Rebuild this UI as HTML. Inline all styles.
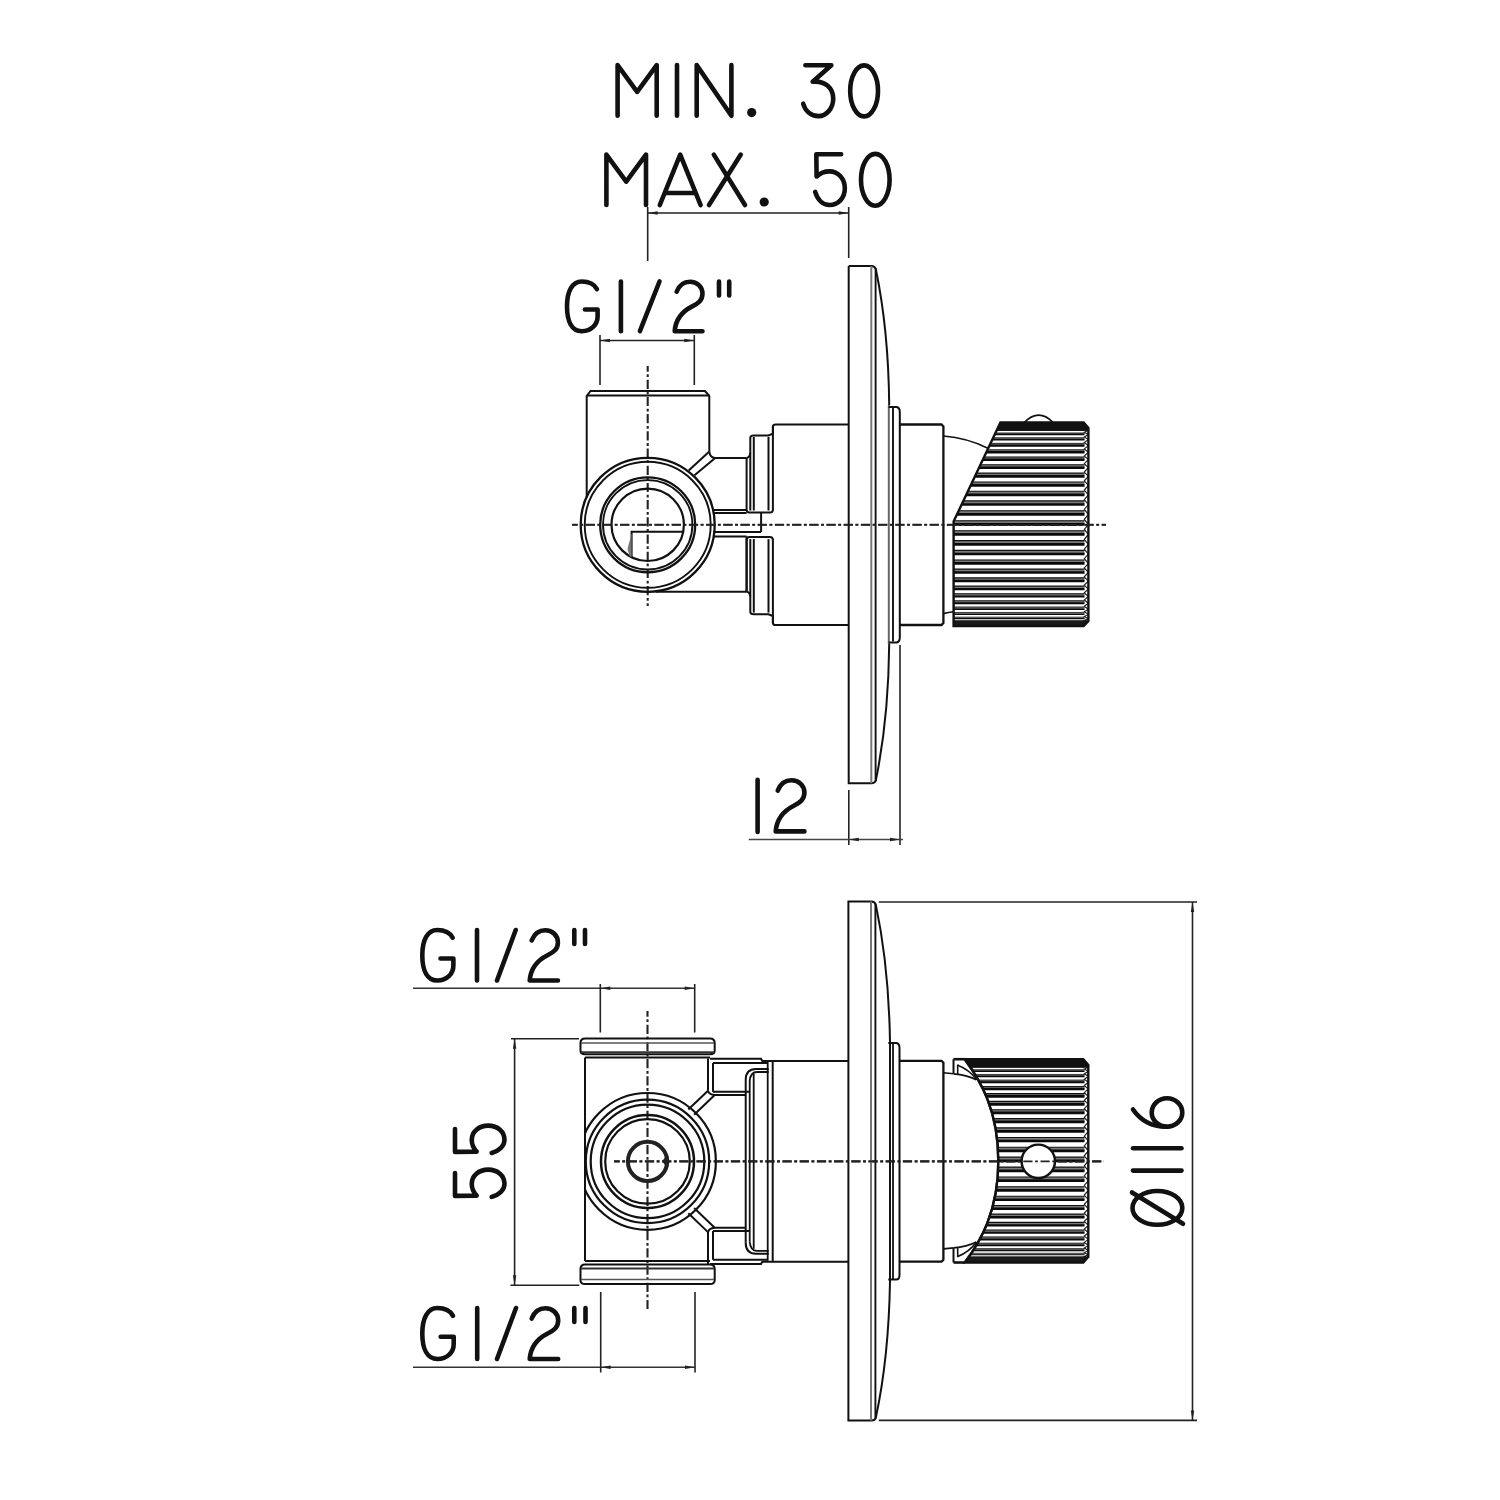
<!DOCTYPE html>
<html><head><meta charset="utf-8"><style>
html,body{margin:0;padding:0;background:#fff;width:1500px;height:1500px;overflow:hidden;font-family:"Liberation Sans",sans-serif;}
svg{display:block}
</style></head><body>
<svg width="1500" height="1500" viewBox="0 0 1500 1500">
<rect width="1500" height="1500" fill="#fff"/>
<g fill="none" stroke="#111" stroke-width="4.6" stroke-linecap="round" stroke-linejoin="round">
<path d="M617.6,115.8 L617.6,65.1 L637.15,91.8189 L656.7,65.1 L656.7,115.8"/>
<path d="M677,65.1 L677,115.8"/>
<path d="M696.7,115.8 L696.7,65.1 L731.4,115.8 L731.4,65.1"/>
<circle cx="751.7" cy="112.6" r="4.6" fill="#111" stroke="none"/>
<path d="M805.40,65.30 L831.34,65.30 L812.68,81.77 C825.16,80.47 833.24,88.25 833.24,98.53 C833.24,108.71 826.15,116.10 818.57,116.10 C811.18,116.10 805.20,111.21 803.20,103.72"/>
<ellipse cx="864.10" cy="90.90" rx="13.90" ry="25.50"/>
<path d="M606.4,205.0 L606.4,154.6 L626.1999999999999,181.6144 L646.0,154.6 L646.0,205.0"/>
<path d="M659.8,205.0 L680.2,154.6 L700.6,205.0 M664.9,193 L695.5,193"/>
<path d="M713.8,154.6 L745,205.0 M740.8,154.6 L709,205.0"/>
<circle cx="764.2" cy="202" r="4.6" fill="#111" stroke="none"/>
<path d="M841.15,154.20 L816.30,154.20 L816.60,176.46 C820.19,173.16 824.18,171.37 829.47,171.37 C838.15,171.37 844.84,178.65 844.84,188.23 C844.84,198.11 838.15,205.00 829.47,205.00 C823.18,205.00 817.70,200.11 815.20,191.83"/>
<ellipse cx="875.30" cy="179.80" rx="14.30" ry="25.90"/>
<path d="M596.92,289.10 C594.19,284.03 588.15,281.50 581.72,281.50 C572.07,281.50 567.00,291.54 567.00,306.35 C567.00,321.75 572.07,331.20 581.72,331.20 C591.17,331.20 597.60,324.77 597.60,316.48 L597.60,309.57 L584.93,309.57"/>
<path d="M620.9,281.5 L620.9,331.2"/>
<path d="M639.9,331.2 L659.5,281.5"/>
<path d="M676.65,291.73 C679.09,285.59 683.96,281.79 690.00,281.79 C697.11,281.79 702.47,286.86 702.47,293.68 C702.47,300.50 698.09,303.43 692.24,306.35 C682.50,311.22 675.67,318.53 674.70,331.20 L702.47,331.20"/>
<path d="M719,281.5 L719,295.5 M729.2,281.5 L729.2,295.5"/>
<path d="M452.70,937.72 C449.93,932.57 443.79,930.00 437.25,930.00 C427.45,930.00 422.30,940.20 422.30,955.25 C422.30,970.90 427.45,980.50 437.25,980.50 C446.86,980.50 453.39,973.96 453.39,965.55 L453.39,958.52 L440.52,958.52"/>
<path d="M477,930 L477,980.5"/>
<path d="M497,980.5 L515.7,930"/>
<path d="M531.68,940.40 C534.16,934.16 539.11,930.30 545.25,930.30 C552.47,930.30 557.92,935.45 557.92,942.38 C557.92,949.31 553.46,952.28 547.52,955.25 C537.62,960.20 530.69,967.63 529.70,980.50 L557.92,980.50"/>
<path d="M574.3,930 L574.3,944 M585,930 L585,944"/>
<path d="M453.00,1315.80 C450.20,1310.60 444.00,1308.00 437.40,1308.00 C427.50,1308.00 422.30,1318.30 422.30,1333.50 C422.30,1349.30 427.50,1359.00 437.40,1359.00 C447.10,1359.00 453.70,1352.40 453.70,1343.90 L453.70,1336.80 L440.70,1336.80"/>
<path d="M477.2,1308 L477.2,1359"/>
<path d="M497,1359 L516,1308"/>
<path d="M531.70,1318.50 C534.20,1312.20 539.20,1308.30 545.40,1308.30 C552.70,1308.30 558.20,1313.50 558.20,1320.50 C558.20,1327.50 553.70,1330.50 547.70,1333.50 C537.70,1338.50 530.70,1346.00 529.70,1359.00 L558.20,1359.00"/>
<path d="M574.3,1308 L574.3,1322 M585.5,1308 L585.5,1322"/>
<path d="M757.6,779.9 L757.6,831.9"/>
<path d="M777.72,790.58 C780.24,784.23 785.27,780.30 791.52,780.30 C798.88,780.30 804.42,785.54 804.42,792.60 C804.42,799.65 799.89,802.68 793.84,805.70 C783.76,810.74 776.71,818.30 775.70,831.40 L804.42,831.40"/>
</g>
<g transform="translate(455,1196.9) rotate(-90) scale(0.92,0.9725)" fill="none" stroke="#111" stroke-width="4.6" stroke-linecap="round" stroke-linejoin="round">
<path vector-effect="non-scaling-stroke" d="M26.00,0.00 L1.10,0.00 L1.40,22.30 C5.00,19.00 9.00,17.20 14.30,17.20 C23.00,17.20 29.70,24.50 29.70,34.10 C29.70,44.00 23.00,50.90 14.30,50.90 C8.00,50.90 2.50,46.00 0.00,37.70"/>
<path vector-effect="non-scaling-stroke" d="M73.80,0.00 L48.90,0.00 L49.20,22.30 C52.80,19.00 56.80,17.20 62.10,17.20 C70.80,17.20 77.50,24.50 77.50,34.10 C77.50,44.00 70.80,50.90 62.10,50.90 C55.80,50.90 50.30,46.00 47.80,37.70"/>
</g>
<g fill="none" stroke="#111" stroke-width="4.6" stroke-linecap="round" stroke-linejoin="round">
<ellipse cx="1157.40" cy="1207.90" rx="24.90" ry="16.90"/>
<path d="M1132,1192.5 L1183,1223.8"/>
<path d="M1133,1170.6 L1181.5,1170.6"/>
<path d="M1133,1148.2 L1181.5,1148.2"/>
<ellipse cx="1167.00" cy="1112.50" rx="15.30" ry="14.20"/>
<path d="M1133,1109.5 C1141,1121 1152,1127 1167,1126.7"/>
</g>
<line x1="647.70" y1="213.00" x2="848.70" y2="213.00" stroke="#222" stroke-width="1.6" />
<polygon points="647.70,213.00 657.70,211.30 657.70,214.70" fill="#222"/>
<polygon points="848.70,213.00 838.70,214.70 838.70,211.30" fill="#222"/>
<line x1="647.70" y1="207.00" x2="647.70" y2="261.00" stroke="#222" stroke-width="1.6" />
<line x1="848.70" y1="207.00" x2="848.70" y2="258.00" stroke="#222" stroke-width="1.6" />
<line x1="600.00" y1="340.50" x2="694.30" y2="340.50" stroke="#222" stroke-width="1.6" />
<polygon points="600.00,340.50 610.00,338.80 610.00,342.20" fill="#222"/>
<polygon points="694.30,340.50 684.30,342.20 684.30,338.80" fill="#222"/>
<line x1="600.00" y1="335.00" x2="600.00" y2="385.00" stroke="#222" stroke-width="1.6" />
<line x1="694.30" y1="335.00" x2="694.30" y2="385.00" stroke="#222" stroke-width="1.6" />
<line x1="572.00" y1="524.80" x2="1106.00" y2="524.80" stroke="#222" stroke-width="2.1" stroke-dasharray="9.2 2.6 2.8 2.6" stroke-dashoffset="3.5"/>
<line x1="647.70" y1="366.00" x2="647.70" y2="606.00" stroke="#222" stroke-width="2.1" stroke-dasharray="9.2 2.6 2.8 2.6" stroke-dashoffset="3.5"/>
<path d="M586.7,396 L590.5,391 L705,391 L709.3,396" fill="none" stroke="#111" stroke-width="2.0" />
<line x1="586.70" y1="395.50" x2="709.30" y2="395.50" stroke="#111" stroke-width="2.0" />
<line x1="586.70" y1="395.50" x2="586.70" y2="497.00" stroke="#111" stroke-width="2.0" />
<line x1="709.30" y1="395.50" x2="709.30" y2="451.40" stroke="#111" stroke-width="2.0" />
<path d="M709.3,451.4 Q710,457.9 715.2,457.9 L746.6,457.9" fill="none" stroke="#111" stroke-width="2.0" />
<line x1="709.30" y1="451.40" x2="688.70" y2="470.50" stroke="#111" stroke-width="2.0" />
<line x1="715.20" y1="457.90" x2="694.50" y2="475.20" stroke="#111" stroke-width="2.0" />
<circle cx="647.7" cy="524.8" r="67" fill="none" stroke="#111" stroke-width="2.3"/>
<circle cx="647.7" cy="524.8" r="63" fill="none" stroke="#111" stroke-width="1.9"/>
<circle cx="647.7" cy="524.8" r="47.5" fill="none" stroke="#111" stroke-width="2.3"/>
<circle cx="647.7" cy="524.8" r="44.7" fill="none" stroke="#111" stroke-width="1.9"/>
<circle cx="647.7" cy="524.8" r="36.2" fill="none" stroke="#111" stroke-width="2.2"/>
<path d="M683.2,531.7 L631.6,531.7 L631.6,557.2" fill="none" stroke="#111" stroke-width="2.0" />
<polygon points="627.50,549.00 631.60,533.00 631.60,557.00 629.50,556.00" fill="#777"/>
<line x1="656.00" y1="591.80" x2="746.60" y2="591.80" stroke="#111" stroke-width="2.0" />
<line x1="713.00" y1="510.00" x2="746.60" y2="510.00" stroke="#111" stroke-width="2.0" />
<line x1="713.00" y1="513.00" x2="746.60" y2="513.00" stroke="#111" stroke-width="2.0" />
<line x1="713.00" y1="532.00" x2="761.10" y2="532.00" stroke="#111" stroke-width="2.0" />
<line x1="713.00" y1="536.40" x2="746.60" y2="536.40" stroke="#111" stroke-width="2.0" />
<line x1="761.10" y1="513.00" x2="761.10" y2="532.00" stroke="#111" stroke-width="2.0" />
<path d="M746.6,457.9 Q749.8,457.6 750.3,453.2 L750.3,437.5 Q750.5,435.4 753.8,435.4 L768.5,435.4 L772.9,433.6 L772.9,426.5 Q773.2,424.5 775.5,424.5 L848.7,424.5" fill="none" stroke="#111" stroke-width="2.0" />
<line x1="746.60" y1="457.90" x2="746.60" y2="510.50" stroke="#111" stroke-width="2.0" />
<line x1="750.30" y1="453.20" x2="750.30" y2="510.50" stroke="#111" stroke-width="2.0" />
<line x1="753.80" y1="437.00" x2="753.80" y2="510.50" stroke="#111" stroke-width="2.0" />
<line x1="768.50" y1="437.00" x2="768.50" y2="510.50" stroke="#111" stroke-width="2.0" />
<line x1="772.90" y1="426.00" x2="772.90" y2="510.50" stroke="#111" stroke-width="2.0" />
<path d="M746.6,510.0 Q746.8,512.6 749.5,512.6 L770,512.6 Q772.7,512.6 772.9,510.0" fill="none" stroke="#111" stroke-width="2.0" />
<path d="M746.6,591.6999999999999 Q749.8,591.9999999999999 750.3,596.3999999999999 L750.3,612.0999999999999 Q750.5,614.1999999999999 753.8,614.1999999999999 L768.5,614.1999999999999 L772.9,615.9999999999999 L772.9,623.0999999999999 Q773.2,625.0999999999999 775.5,625.0999999999999 L848.7,625.0999999999999" fill="none" stroke="#111" stroke-width="2.0" />
<line x1="746.60" y1="591.70" x2="746.60" y2="539.10" stroke="#111" stroke-width="2.0" />
<line x1="750.30" y1="596.40" x2="750.30" y2="539.10" stroke="#111" stroke-width="2.0" />
<line x1="753.80" y1="612.60" x2="753.80" y2="539.10" stroke="#111" stroke-width="2.0" />
<line x1="768.50" y1="612.60" x2="768.50" y2="539.10" stroke="#111" stroke-width="2.0" />
<line x1="772.90" y1="623.60" x2="772.90" y2="539.10" stroke="#111" stroke-width="2.0" />
<path d="M746.6,539.5999999999999 Q746.8,536.9999999999999 749.5,536.9999999999999 L770,536.9999999999999 Q772.7,536.9999999999999 772.9,539.5999999999999" fill="none" stroke="#111" stroke-width="2.0" />
<line x1="746.60" y1="536.40" x2="746.60" y2="591.80" stroke="#111" stroke-width="2.0" />
<path d="M848.7,266 L871.5,266 Q874.8,266.3 875.8,269 Q888.5,330 889.2,405 M889.2,644 Q888.5,719 875.8,780.5 Q874.8,783.2 871.5,783.2 L848.7,783.2 L848.7,266" fill="none" stroke="#111" stroke-width="2.0" />
<line x1="888.80" y1="405.00" x2="888.80" y2="644.00" stroke="#666" stroke-width="2.0" />
<line x1="871.30" y1="266.00" x2="871.30" y2="783.20" stroke="#777" stroke-width="2.0" />
<line x1="875.60" y1="268.00" x2="875.60" y2="781.00" stroke="#111" stroke-width="1.9" />
<path d="M888.6,407 L896.5,407 Q899.8,407.5 899.8,412 L899.8,637.6 Q899.8,642.1 896.5,642.6 L888.6,642.6" fill="none" stroke="#111" stroke-width="2.0" />
<line x1="893.00" y1="408.00" x2="893.00" y2="641.60" stroke="#111" stroke-width="1.9" />
<path d="M899.8,424.5 L941.5,424.5 L943.4,426.5 L943.4,623 L941.5,625 L899.8,625" fill="none" stroke="#111" stroke-width="2.3" />
<path d="M943.2,436 Q968,438 988.5,448.5" fill="none" stroke="#111" stroke-width="1.6" />
<path d="M943.2,613.6 Q948.5,612.3 953.6,611.8" fill="none" stroke="#111" stroke-width="1.6" />
<line x1="848.80" y1="790.00" x2="848.80" y2="845.00" stroke="#222" stroke-width="1.6" />
<line x1="900.00" y1="645.00" x2="900.00" y2="845.00" stroke="#222" stroke-width="1.6" />
<line x1="748.80" y1="839.50" x2="903.00" y2="839.50" stroke="#444" stroke-width="1.6" />
<polygon points="848.80,839.50 858.80,837.80 858.80,841.20" fill="#222"/>
<polygon points="900.00,839.50 890.00,841.20 890.00,837.80" fill="#222"/>
<line x1="413.00" y1="988.20" x2="695.00" y2="988.20" stroke="#333" stroke-width="1.6" />
<polygon points="600.30,988.20 610.30,986.50 610.30,989.90" fill="#222"/>
<polygon points="694.70,988.20 684.70,989.90 684.70,986.50" fill="#222"/>
<line x1="600.30" y1="984.00" x2="600.30" y2="1032.50" stroke="#222" stroke-width="1.6" />
<line x1="694.70" y1="984.00" x2="694.70" y2="1032.50" stroke="#222" stroke-width="1.6" />
<line x1="511.00" y1="1038.80" x2="579.00" y2="1038.80" stroke="#222" stroke-width="1.6" />
<line x1="514.60" y1="1038.80" x2="514.60" y2="1285.30" stroke="#222" stroke-width="1.6" />
<polygon points="514.60,1038.80 516.30,1048.80 512.90,1048.80" fill="#222"/>
<polygon points="514.60,1285.30 512.90,1275.30 516.30,1275.30" fill="#222"/>
<line x1="510.50" y1="1285.30" x2="579.40" y2="1285.30" stroke="#222" stroke-width="1.6" />
<line x1="413.00" y1="1367.20" x2="695.00" y2="1367.20" stroke="#333" stroke-width="1.6" />
<polygon points="600.70,1367.20 610.70,1365.50 610.70,1368.90" fill="#222"/>
<polygon points="695.00,1367.20 685.00,1368.90 685.00,1365.50" fill="#222"/>
<line x1="600.70" y1="1292.00" x2="600.70" y2="1372.50" stroke="#222" stroke-width="1.6" />
<line x1="695.00" y1="1292.00" x2="695.00" y2="1372.50" stroke="#222" stroke-width="1.6" />
<line x1="878.80" y1="902.00" x2="1197.00" y2="902.00" stroke="#222" stroke-width="1.6" />
<line x1="878.80" y1="1420.40" x2="1197.00" y2="1420.40" stroke="#222" stroke-width="1.6" />
<line x1="1192.50" y1="902.00" x2="1192.50" y2="1420.40" stroke="#222" stroke-width="1.6" />
<polygon points="1192.50,902.00 1194.20,912.00 1190.80,912.00" fill="#222"/>
<polygon points="1192.50,1420.40 1190.80,1410.40 1194.20,1410.40" fill="#222"/>
<line x1="614.00" y1="1161.40" x2="1104.00" y2="1161.40" stroke="#222" stroke-width="2.1" stroke-dasharray="9.2 2.6 2.8 2.6" stroke-dashoffset="3.5"/>
<line x1="647.50" y1="1011.00" x2="647.50" y2="1311.00" stroke="#222" stroke-width="2.1" stroke-dasharray="9.2 2.6 2.8 2.6" stroke-dashoffset="3.5"/>
<path d="M585,1038.5 L710,1038.5 Q714.7,1038.5 714.7,1043.0 L714.7,1050.5 Q714.7,1054.3 710,1054.3 L585,1054.3 Q580.5,1054.3 580.5,1050.5 L580.5,1043.0 Q580.5,1038.5 585,1038.5 Z" fill="none" stroke="#111" stroke-width="2.0" />
<line x1="581.00" y1="1043.00" x2="714.00" y2="1043.00" stroke="#555" stroke-width="1.5" />
<line x1="581.00" y1="1052.20" x2="714.00" y2="1052.20" stroke="#333" stroke-width="1.8" />
<line x1="585.00" y1="1057.60" x2="710.00" y2="1057.60" stroke="#111" stroke-width="2.0" />
<path d="M585,1264.5 L710,1264.5 Q714.7,1264.5 714.7,1269.0 L714.7,1280.2 Q714.7,1284 710,1284 L585,1284 Q580.5,1284 580.5,1280.2 L580.5,1269.0 Q580.5,1264.5 585,1264.5 Z" fill="none" stroke="#111" stroke-width="2.0" />
<line x1="581.00" y1="1268.50" x2="714.00" y2="1268.50" stroke="#333" stroke-width="1.8" />
<line x1="581.00" y1="1279.50" x2="714.00" y2="1279.50" stroke="#555" stroke-width="1.5" />
<line x1="585.00" y1="1261.00" x2="710.00" y2="1261.00" stroke="#111" stroke-width="2.0" />
<line x1="585.00" y1="1057.60" x2="585.00" y2="1261.00" stroke="#111" stroke-width="2.0" />
<line x1="708.00" y1="1058.50" x2="708.00" y2="1090.70" stroke="#111" stroke-width="2.0" />
<line x1="713.00" y1="1063.00" x2="713.00" y2="1091.70" stroke="#111" stroke-width="2.0" />
<path d="M710,1058.7 L761,1058.7 L762.3,1061.0 L848.4,1061.0" fill="none" stroke="#111" stroke-width="2.0" />
<line x1="713.00" y1="1063.00" x2="767.70" y2="1063.00" stroke="#111" stroke-width="2.0" />
<path d="M708,1090.7 Q709,1094.5 714.7,1095.0 L746,1095.0" fill="none" stroke="#111" stroke-width="2.0" />
<line x1="713.00" y1="1091.70" x2="750.00" y2="1091.70" stroke="#111" stroke-width="2.0" />
<line x1="708.00" y1="1090.70" x2="688.31" y2="1109.57" stroke="#111" stroke-width="2.0" />
<line x1="714.70" y1="1095.00" x2="694.12" y2="1114.73" stroke="#111" stroke-width="2.0" />
<path d="M745.7,1080.0 Q745.7,1069.0 756,1069.0 L768.7,1069.0" fill="none" stroke="#111" stroke-width="2.0" />
<path d="M749.7,1081.0 Q750.5,1072.0 757,1072.0 L768.7,1072.0" fill="none" stroke="#111" stroke-width="1.8" />
<line x1="753.70" y1="1074.00" x2="753.70" y2="1161.40" stroke="#111" stroke-width="1.8" />
<line x1="708.00" y1="1264.30" x2="708.00" y2="1232.10" stroke="#111" stroke-width="2.0" />
<line x1="713.00" y1="1259.80" x2="713.00" y2="1231.10" stroke="#111" stroke-width="2.0" />
<path d="M710,1264.1000000000001 L761,1264.1000000000001 L762.3,1261.8000000000002 L848.4,1261.8000000000002" fill="none" stroke="#111" stroke-width="2.0" />
<line x1="713.00" y1="1259.80" x2="767.70" y2="1259.80" stroke="#111" stroke-width="2.0" />
<path d="M708,1232.1000000000001 Q709,1228.3000000000002 714.7,1227.8000000000002 L746,1227.8000000000002" fill="none" stroke="#111" stroke-width="2.0" />
<line x1="713.00" y1="1231.10" x2="750.00" y2="1231.10" stroke="#111" stroke-width="2.0" />
<line x1="708.00" y1="1232.10" x2="688.31" y2="1213.23" stroke="#111" stroke-width="2.0" />
<line x1="714.70" y1="1227.80" x2="694.12" y2="1208.07" stroke="#111" stroke-width="2.0" />
<path d="M745.7,1242.8000000000002 Q745.7,1253.8000000000002 756,1253.8000000000002 L768.7,1253.8000000000002" fill="none" stroke="#111" stroke-width="2.0" />
<path d="M749.7,1241.8000000000002 Q750.5,1250.8000000000002 757,1250.8000000000002 L768.7,1250.8000000000002" fill="none" stroke="#111" stroke-width="1.8" />
<line x1="753.70" y1="1248.80" x2="753.70" y2="1161.40" stroke="#111" stroke-width="1.8" />
<line x1="745.70" y1="1080.00" x2="745.70" y2="1242.80" stroke="#111" stroke-width="2.0" />
<line x1="749.70" y1="1081.00" x2="749.70" y2="1241.80" stroke="#111" stroke-width="1.8" />
<line x1="767.70" y1="1062.00" x2="767.70" y2="1260.80" stroke="#111" stroke-width="1.8" />
<line x1="772.70" y1="1061.00" x2="772.70" y2="1261.80" stroke="#111" stroke-width="2.0" />
<clipPath id="wallclip"><rect x="585" y="0" width="900" height="1500"/></clipPath>
<g clip-path="url(#wallclip)">
<circle cx="647.5" cy="1161.4" r="68.4" fill="none" stroke="#111" stroke-width="2.2"/>
<circle cx="647.5" cy="1161.4" r="61.7" fill="none" stroke="#111" stroke-width="2.2"/>
</g>
<circle cx="647.5" cy="1161.4" r="56.8" fill="none" stroke="#111" stroke-width="2.2"/>
<circle cx="647.5" cy="1161.4" r="46.5" fill="none" stroke="#111" stroke-width="2.5"/>
<circle cx="647.5" cy="1161.4" r="42.3" fill="none" stroke="#111" stroke-width="2.2"/>
<circle cx="647.5" cy="1161.4" r="19.6" fill="none" stroke="#222" stroke-width="4.0"/>
<polygon points="662.20,1161.30 667.80,1153.50 669.50,1161.30 667.80,1169.00" fill="#222"/>
<path d="M848.4,901.6 L871.5,901.6 Q874.8,901.9 875.8,904.6 Q888.8,966 890,1042 L890,1281 Q888.8,1357 875.8,1417.8 Q874.8,1420.4 871.5,1420.4 L848.4,1420.4 Z" fill="none" stroke="#111" stroke-width="2.0" />
<line x1="871.00" y1="901.60" x2="871.00" y2="1420.40" stroke="#777" stroke-width="2.0" />
<line x1="875.40" y1="904.00" x2="875.40" y2="1418.00" stroke="#111" stroke-width="1.9" />
<path d="M888.3,1043.1 L896.3,1043.1 Q899.5,1043.6 899.5,1048 L899.5,1275 Q899.5,1279.6 896.3,1279.6 L888.3,1279.6" fill="none" stroke="#111" stroke-width="2.0" />
<line x1="893.00" y1="1043.10" x2="893.00" y2="1279.60" stroke="#111" stroke-width="1.8" />
<path d="M899.5,1060.8 L941.5,1060.8 L943.4,1062.8 L943.4,1259.7 L941.5,1261.7 L899.5,1261.7" fill="none" stroke="#111" stroke-width="2.3" />
<clipPath id="kc1"><path d="M1000.4,422.4 L1083.6,422.4 L1088.4,428 L1088.4,621 L1083.6,626 L953.6,626 L953.6,521.6 Z"/></clipPath>
<g clip-path="url(#kc1)">
<rect x="940" y="422.70" width="144.5" height="0.19" fill="#7a7a7a"/>
<line x1="940" y1="422.40" x2="1084.5" y2="422.40" stroke="#0a0a0a" stroke-width="0.90"/>
<line x1="940" y1="422.71" x2="1084.5" y2="422.71" stroke="#111" stroke-width="0.50"/>
<rect x="940" y="423.80" width="144.5" height="0.56" fill="#7a7a7a"/>
<line x1="940" y1="422.89" x2="1084.5" y2="422.89" stroke="#0a0a0a" stroke-width="0.90"/>
<line x1="940" y1="423.82" x2="1084.5" y2="423.82" stroke="#111" stroke-width="0.50"/>
<rect x="940" y="425.87" width="144.5" height="0.92" fill="#7a7a7a"/>
<line x1="940" y1="424.36" x2="1084.5" y2="424.36" stroke="#0a0a0a" stroke-width="0.90"/>
<line x1="940" y1="425.89" x2="1084.5" y2="425.89" stroke="#111" stroke-width="0.50"/>
<rect x="940" y="428.88" width="144.5" height="1.28" fill="#7a7a7a"/>
<line x1="940" y1="426.79" x2="1084.5" y2="426.79" stroke="#0a0a0a" stroke-width="1.08"/>
<line x1="940" y1="428.92" x2="1084.5" y2="428.92" stroke="#111" stroke-width="0.50"/>
<rect x="940" y="432.82" width="144.5" height="1.63" fill="#7a7a7a"/>
<line x1="940" y1="430.16" x2="1084.5" y2="430.16" stroke="#0a0a0a" stroke-width="1.37"/>
<line x1="940" y1="432.86" x2="1084.5" y2="432.86" stroke="#111" stroke-width="0.60"/>
<rect x="940" y="437.63" width="144.5" height="1.96" fill="#7a7a7a"/>
<line x1="940" y1="434.44" x2="1084.5" y2="434.44" stroke="#0a0a0a" stroke-width="1.65"/>
<line x1="940" y1="437.69" x2="1084.5" y2="437.69" stroke="#111" stroke-width="0.72"/>
<rect x="940" y="443.29" width="144.5" height="2.27" fill="#7a7a7a"/>
<line x1="940" y1="439.59" x2="1084.5" y2="439.59" stroke="#0a0a0a" stroke-width="1.91"/>
<line x1="940" y1="443.35" x2="1084.5" y2="443.35" stroke="#111" stroke-width="0.83"/>
<rect x="940" y="449.72" width="144.5" height="2.55" fill="#7a7a7a"/>
<line x1="940" y1="445.55" x2="1084.5" y2="445.55" stroke="#0a0a0a" stroke-width="2.15"/>
<line x1="940" y1="449.79" x2="1084.5" y2="449.79" stroke="#111" stroke-width="0.94"/>
<rect x="940" y="456.87" width="144.5" height="2.82" fill="#7a7a7a"/>
<line x1="940" y1="452.28" x2="1084.5" y2="452.28" stroke="#0a0a0a" stroke-width="2.37"/>
<line x1="940" y1="456.95" x2="1084.5" y2="456.95" stroke="#111" stroke-width="1.04"/>
<rect x="940" y="464.68" width="144.5" height="3.06" fill="#7a7a7a"/>
<line x1="940" y1="459.69" x2="1084.5" y2="459.69" stroke="#0a0a0a" stroke-width="2.57"/>
<line x1="940" y1="464.76" x2="1084.5" y2="464.76" stroke="#111" stroke-width="1.10"/>
<rect x="940" y="473.05" width="144.5" height="3.26" fill="#7a7a7a"/>
<line x1="940" y1="467.73" x2="1084.5" y2="467.73" stroke="#0a0a0a" stroke-width="2.70"/>
<line x1="940" y1="473.14" x2="1084.5" y2="473.14" stroke="#111" stroke-width="1.10"/>
<rect x="940" y="481.93" width="144.5" height="3.44" fill="#7a7a7a"/>
<line x1="940" y1="476.32" x2="1084.5" y2="476.32" stroke="#0a0a0a" stroke-width="2.70"/>
<line x1="940" y1="482.02" x2="1084.5" y2="482.02" stroke="#111" stroke-width="1.10"/>
<rect x="940" y="491.21" width="144.5" height="3.58" fill="#7a7a7a"/>
<line x1="940" y1="485.37" x2="1084.5" y2="485.37" stroke="#0a0a0a" stroke-width="2.70"/>
<line x1="940" y1="491.30" x2="1084.5" y2="491.30" stroke="#111" stroke-width="1.10"/>
<rect x="940" y="500.81" width="144.5" height="3.69" fill="#7a7a7a"/>
<line x1="940" y1="494.79" x2="1084.5" y2="494.79" stroke="#0a0a0a" stroke-width="2.70"/>
<line x1="940" y1="500.91" x2="1084.5" y2="500.91" stroke="#111" stroke-width="1.10"/>
<rect x="940" y="510.64" width="144.5" height="3.76" fill="#7a7a7a"/>
<line x1="940" y1="504.50" x2="1084.5" y2="504.50" stroke="#0a0a0a" stroke-width="2.70"/>
<line x1="940" y1="510.74" x2="1084.5" y2="510.74" stroke="#111" stroke-width="1.10"/>
<rect x="940" y="520.60" width="144.5" height="3.80" fill="#7a7a7a"/>
<line x1="940" y1="514.40" x2="1084.5" y2="514.40" stroke="#0a0a0a" stroke-width="2.70"/>
<line x1="940" y1="520.70" x2="1084.5" y2="520.70" stroke="#111" stroke-width="1.10"/>
<rect x="940" y="530.60" width="144.5" height="3.80" fill="#7a7a7a"/>
<line x1="940" y1="524.40" x2="1084.5" y2="524.40" stroke="#0a0a0a" stroke-width="2.70"/>
<line x1="940" y1="530.70" x2="1084.5" y2="530.70" stroke="#111" stroke-width="1.10"/>
<rect x="940" y="540.54" width="144.5" height="3.76" fill="#7a7a7a"/>
<line x1="940" y1="534.40" x2="1084.5" y2="534.40" stroke="#0a0a0a" stroke-width="2.70"/>
<line x1="940" y1="540.64" x2="1084.5" y2="540.64" stroke="#111" stroke-width="1.10"/>
<rect x="940" y="550.32" width="144.5" height="3.69" fill="#7a7a7a"/>
<line x1="940" y1="544.30" x2="1084.5" y2="544.30" stroke="#0a0a0a" stroke-width="2.70"/>
<line x1="940" y1="550.42" x2="1084.5" y2="550.42" stroke="#111" stroke-width="1.10"/>
<rect x="940" y="559.85" width="144.5" height="3.58" fill="#7a7a7a"/>
<line x1="940" y1="554.01" x2="1084.5" y2="554.01" stroke="#0a0a0a" stroke-width="2.70"/>
<line x1="940" y1="559.95" x2="1084.5" y2="559.95" stroke="#111" stroke-width="1.10"/>
<rect x="940" y="569.04" width="144.5" height="3.44" fill="#7a7a7a"/>
<line x1="940" y1="563.43" x2="1084.5" y2="563.43" stroke="#0a0a0a" stroke-width="2.70"/>
<line x1="940" y1="569.13" x2="1084.5" y2="569.13" stroke="#111" stroke-width="1.10"/>
<rect x="940" y="577.81" width="144.5" height="3.26" fill="#7a7a7a"/>
<line x1="940" y1="572.48" x2="1084.5" y2="572.48" stroke="#0a0a0a" stroke-width="2.70"/>
<line x1="940" y1="577.89" x2="1084.5" y2="577.89" stroke="#111" stroke-width="1.10"/>
<rect x="940" y="586.05" width="144.5" height="3.06" fill="#7a7a7a"/>
<line x1="940" y1="581.07" x2="1084.5" y2="581.07" stroke="#0a0a0a" stroke-width="2.57"/>
<line x1="940" y1="586.13" x2="1084.5" y2="586.13" stroke="#111" stroke-width="1.10"/>
<rect x="940" y="593.71" width="144.5" height="2.82" fill="#7a7a7a"/>
<line x1="940" y1="589.11" x2="1084.5" y2="589.11" stroke="#0a0a0a" stroke-width="2.37"/>
<line x1="940" y1="593.78" x2="1084.5" y2="593.78" stroke="#111" stroke-width="1.04"/>
<rect x="940" y="600.69" width="144.5" height="2.55" fill="#7a7a7a"/>
<line x1="940" y1="596.52" x2="1084.5" y2="596.52" stroke="#0a0a0a" stroke-width="2.15"/>
<line x1="940" y1="600.76" x2="1084.5" y2="600.76" stroke="#111" stroke-width="0.94"/>
<rect x="940" y="606.94" width="144.5" height="2.27" fill="#7a7a7a"/>
<line x1="940" y1="603.25" x2="1084.5" y2="603.25" stroke="#0a0a0a" stroke-width="1.91"/>
<line x1="940" y1="607.00" x2="1084.5" y2="607.00" stroke="#111" stroke-width="0.83"/>
<rect x="940" y="612.40" width="144.5" height="1.96" fill="#7a7a7a"/>
<line x1="940" y1="609.21" x2="1084.5" y2="609.21" stroke="#0a0a0a" stroke-width="1.65"/>
<line x1="940" y1="612.45" x2="1084.5" y2="612.45" stroke="#111" stroke-width="0.72"/>
<rect x="940" y="617.01" width="144.5" height="1.63" fill="#7a7a7a"/>
<line x1="940" y1="614.36" x2="1084.5" y2="614.36" stroke="#0a0a0a" stroke-width="1.37"/>
<line x1="940" y1="617.05" x2="1084.5" y2="617.05" stroke="#111" stroke-width="0.60"/>
<rect x="940" y="620.73" width="144.5" height="1.28" fill="#7a7a7a"/>
<line x1="940" y1="618.64" x2="1084.5" y2="618.64" stroke="#0a0a0a" stroke-width="1.08"/>
<line x1="940" y1="620.76" x2="1084.5" y2="620.76" stroke="#111" stroke-width="0.50"/>
<rect x="940" y="623.52" width="144.5" height="0.92" fill="#7a7a7a"/>
<line x1="940" y1="622.01" x2="1084.5" y2="622.01" stroke="#0a0a0a" stroke-width="0.90"/>
<line x1="940" y1="623.54" x2="1084.5" y2="623.54" stroke="#111" stroke-width="0.50"/>
<rect x="940" y="625.35" width="144.5" height="0.56" fill="#7a7a7a"/>
<line x1="940" y1="624.44" x2="1084.5" y2="624.44" stroke="#0a0a0a" stroke-width="0.90"/>
<line x1="940" y1="625.37" x2="1084.5" y2="625.37" stroke="#111" stroke-width="0.50"/>
<rect x="940" y="626.21" width="144.5" height="0.19" fill="#7a7a7a"/>
<line x1="940" y1="625.91" x2="1084.5" y2="625.91" stroke="#0a0a0a" stroke-width="0.90"/>
<line x1="940" y1="626.22" x2="1084.5" y2="626.22" stroke="#111" stroke-width="0.50"/>
<rect x="940" y="422.4" width="154.5" height="8.5" fill="#111"/>
<rect x="940" y="620.4" width="154.5" height="6" fill="#1a1a1a"/>
<path d="M1088.3,422.40 L1084.3,422.65 L1088.3,422.89" fill="none" stroke="#111" stroke-width="1.1"/>
<path d="M1088.3,422.89 L1084.3,423.63 L1088.3,424.36" fill="none" stroke="#111" stroke-width="1.1"/>
<path d="M1088.3,424.36 L1084.3,425.58 L1088.3,426.79" fill="none" stroke="#111" stroke-width="1.1"/>
<path d="M1088.3,426.79 L1084.3,428.48 L1088.3,430.16" fill="none" stroke="#111" stroke-width="1.1"/>
<path d="M1088.3,430.16 L1084.3,432.30 L1088.3,434.44" fill="none" stroke="#111" stroke-width="1.1"/>
<path d="M1088.3,434.44 L1084.3,437.02 L1088.3,439.59" fill="none" stroke="#111" stroke-width="1.1"/>
<path d="M1088.3,439.59 L1084.3,442.57 L1088.3,445.55" fill="none" stroke="#111" stroke-width="1.1"/>
<path d="M1088.3,445.55 L1084.3,448.91 L1088.3,452.28" fill="none" stroke="#111" stroke-width="1.1"/>
<path d="M1088.3,452.28 L1084.3,455.98 L1088.3,459.69" fill="none" stroke="#111" stroke-width="1.1"/>
<path d="M1088.3,459.69 L1084.3,463.71 L1088.3,467.73" fill="none" stroke="#111" stroke-width="1.1"/>
<path d="M1088.3,467.73 L1084.3,472.02 L1088.3,476.32" fill="none" stroke="#111" stroke-width="1.1"/>
<path d="M1088.3,476.32 L1084.3,480.84 L1088.3,485.37" fill="none" stroke="#111" stroke-width="1.1"/>
<path d="M1088.3,485.37 L1084.3,490.08 L1088.3,494.79" fill="none" stroke="#111" stroke-width="1.1"/>
<path d="M1088.3,494.79 L1084.3,499.65 L1088.3,504.50" fill="none" stroke="#111" stroke-width="1.1"/>
<path d="M1088.3,504.50 L1084.3,509.45 L1088.3,514.40" fill="none" stroke="#111" stroke-width="1.1"/>
<path d="M1088.3,514.40 L1084.3,519.40 L1088.3,524.40" fill="none" stroke="#111" stroke-width="1.1"/>
<path d="M1088.3,524.40 L1084.3,529.40 L1088.3,534.40" fill="none" stroke="#111" stroke-width="1.1"/>
<path d="M1088.3,534.40 L1084.3,539.35 L1088.3,544.30" fill="none" stroke="#111" stroke-width="1.1"/>
<path d="M1088.3,544.30 L1084.3,549.15 L1088.3,554.01" fill="none" stroke="#111" stroke-width="1.1"/>
<path d="M1088.3,554.01 L1084.3,558.72 L1088.3,563.43" fill="none" stroke="#111" stroke-width="1.1"/>
<path d="M1088.3,563.43 L1084.3,567.96 L1088.3,572.48" fill="none" stroke="#111" stroke-width="1.1"/>
<path d="M1088.3,572.48 L1084.3,576.78 L1088.3,581.07" fill="none" stroke="#111" stroke-width="1.1"/>
<path d="M1088.3,581.07 L1084.3,585.09 L1088.3,589.11" fill="none" stroke="#111" stroke-width="1.1"/>
<path d="M1088.3,589.11 L1084.3,592.82 L1088.3,596.52" fill="none" stroke="#111" stroke-width="1.1"/>
<path d="M1088.3,596.52 L1084.3,599.89 L1088.3,603.25" fill="none" stroke="#111" stroke-width="1.1"/>
<path d="M1088.3,603.25 L1084.3,606.23 L1088.3,609.21" fill="none" stroke="#111" stroke-width="1.1"/>
<path d="M1088.3,609.21 L1084.3,611.78 L1088.3,614.36" fill="none" stroke="#111" stroke-width="1.1"/>
<path d="M1088.3,614.36 L1084.3,616.50 L1088.3,618.64" fill="none" stroke="#111" stroke-width="1.1"/>
<path d="M1088.3,618.64 L1084.3,620.32 L1088.3,622.01" fill="none" stroke="#111" stroke-width="1.1"/>
<path d="M1088.3,622.01 L1084.3,623.22 L1088.3,624.44" fill="none" stroke="#111" stroke-width="1.1"/>
<path d="M1088.3,624.44 L1084.3,625.17 L1088.3,625.91" fill="none" stroke="#111" stroke-width="1.1"/>
<path d="M1088.3,625.91 L1084.3,626.15 L1088.3,626.40" fill="none" stroke="#111" stroke-width="1.1"/>
</g>
<path d="M1000.4,422.4 L1083.6,422.4 L1088.4,428 L1088.4,621 L1083.6,626 L953.6,626 L953.6,521.6 Z" fill="none" stroke="#111" stroke-width="2.4" />
<path d="M1024.4,422.4 Q1038.7,408 1053,422.4" fill="none" stroke="#111" stroke-width="1.8" />
<clipPath id="kc2"><path d="M965,1059.2 L1083.3,1059.2 L1088.3,1065 L1088.3,1256.7 L1083.3,1262.5 L965,1262.5 C980,1242 998.3,1212 998.3,1161 C998.3,1110 980,1080 965,1059.2 Z"/></clipPath>
<g clip-path="url(#kc2)">
<rect x="940" y="1059.50" width="144.5" height="0.19" fill="#7a7a7a"/>
<line x1="940" y1="1059.20" x2="1084.5" y2="1059.20" stroke="#0a0a0a" stroke-width="0.90"/>
<line x1="940" y1="1059.51" x2="1084.5" y2="1059.51" stroke="#111" stroke-width="0.50"/>
<rect x="940" y="1060.60" width="144.5" height="0.56" fill="#7a7a7a"/>
<line x1="940" y1="1059.69" x2="1084.5" y2="1059.69" stroke="#0a0a0a" stroke-width="0.90"/>
<line x1="940" y1="1060.61" x2="1084.5" y2="1060.61" stroke="#111" stroke-width="0.50"/>
<rect x="940" y="1062.66" width="144.5" height="0.92" fill="#7a7a7a"/>
<line x1="940" y1="1061.15" x2="1084.5" y2="1061.15" stroke="#0a0a0a" stroke-width="0.90"/>
<line x1="940" y1="1062.68" x2="1084.5" y2="1062.68" stroke="#111" stroke-width="0.50"/>
<rect x="940" y="1065.66" width="144.5" height="1.28" fill="#7a7a7a"/>
<line x1="940" y1="1063.58" x2="1084.5" y2="1063.58" stroke="#0a0a0a" stroke-width="1.08"/>
<line x1="940" y1="1065.69" x2="1084.5" y2="1065.69" stroke="#111" stroke-width="0.50"/>
<rect x="940" y="1069.58" width="144.5" height="1.62" fill="#7a7a7a"/>
<line x1="940" y1="1066.94" x2="1084.5" y2="1066.94" stroke="#0a0a0a" stroke-width="1.36"/>
<line x1="940" y1="1069.62" x2="1084.5" y2="1069.62" stroke="#111" stroke-width="0.60"/>
<rect x="940" y="1074.38" width="144.5" height="1.95" fill="#7a7a7a"/>
<line x1="940" y1="1071.20" x2="1084.5" y2="1071.20" stroke="#0a0a0a" stroke-width="1.64"/>
<line x1="940" y1="1074.43" x2="1084.5" y2="1074.43" stroke="#111" stroke-width="0.72"/>
<rect x="940" y="1080.02" width="144.5" height="2.26" fill="#7a7a7a"/>
<line x1="940" y1="1076.33" x2="1084.5" y2="1076.33" stroke="#0a0a0a" stroke-width="1.90"/>
<line x1="940" y1="1080.07" x2="1084.5" y2="1080.07" stroke="#111" stroke-width="0.83"/>
<rect x="940" y="1086.43" width="144.5" height="2.55" fill="#7a7a7a"/>
<line x1="940" y1="1082.27" x2="1084.5" y2="1082.27" stroke="#0a0a0a" stroke-width="2.14"/>
<line x1="940" y1="1086.49" x2="1084.5" y2="1086.49" stroke="#111" stroke-width="0.94"/>
<rect x="940" y="1093.56" width="144.5" height="2.81" fill="#7a7a7a"/>
<line x1="940" y1="1088.97" x2="1084.5" y2="1088.97" stroke="#0a0a0a" stroke-width="2.37"/>
<line x1="940" y1="1093.63" x2="1084.5" y2="1093.63" stroke="#111" stroke-width="1.03"/>
<rect x="940" y="1101.33" width="144.5" height="3.04" fill="#7a7a7a"/>
<line x1="940" y1="1096.36" x2="1084.5" y2="1096.36" stroke="#0a0a0a" stroke-width="2.56"/>
<line x1="940" y1="1101.41" x2="1084.5" y2="1101.41" stroke="#111" stroke-width="1.10"/>
<rect x="940" y="1109.68" width="144.5" height="3.25" fill="#7a7a7a"/>
<line x1="940" y1="1104.38" x2="1084.5" y2="1104.38" stroke="#0a0a0a" stroke-width="2.70"/>
<line x1="940" y1="1109.77" x2="1084.5" y2="1109.77" stroke="#111" stroke-width="1.10"/>
<rect x="940" y="1118.52" width="144.5" height="3.43" fill="#7a7a7a"/>
<line x1="940" y1="1112.93" x2="1084.5" y2="1112.93" stroke="#0a0a0a" stroke-width="2.70"/>
<line x1="940" y1="1118.61" x2="1084.5" y2="1118.61" stroke="#111" stroke-width="1.10"/>
<rect x="940" y="1127.77" width="144.5" height="3.57" fill="#7a7a7a"/>
<line x1="940" y1="1121.95" x2="1084.5" y2="1121.95" stroke="#0a0a0a" stroke-width="2.70"/>
<line x1="940" y1="1127.87" x2="1084.5" y2="1127.87" stroke="#111" stroke-width="1.10"/>
<rect x="940" y="1137.34" width="144.5" height="3.68" fill="#7a7a7a"/>
<line x1="940" y1="1131.34" x2="1084.5" y2="1131.34" stroke="#0a0a0a" stroke-width="2.70"/>
<line x1="940" y1="1137.44" x2="1084.5" y2="1137.44" stroke="#111" stroke-width="1.10"/>
<rect x="940" y="1147.14" width="144.5" height="3.75" fill="#7a7a7a"/>
<line x1="940" y1="1141.02" x2="1084.5" y2="1141.02" stroke="#0a0a0a" stroke-width="2.70"/>
<line x1="940" y1="1147.24" x2="1084.5" y2="1147.24" stroke="#111" stroke-width="1.10"/>
<rect x="940" y="1157.06" width="144.5" height="3.79" fill="#7a7a7a"/>
<line x1="940" y1="1150.89" x2="1084.5" y2="1150.89" stroke="#0a0a0a" stroke-width="2.70"/>
<line x1="940" y1="1157.16" x2="1084.5" y2="1157.16" stroke="#111" stroke-width="1.10"/>
<rect x="940" y="1167.03" width="144.5" height="3.79" fill="#7a7a7a"/>
<line x1="940" y1="1160.85" x2="1084.5" y2="1160.85" stroke="#0a0a0a" stroke-width="2.70"/>
<line x1="940" y1="1167.13" x2="1084.5" y2="1167.13" stroke="#111" stroke-width="1.10"/>
<rect x="940" y="1176.93" width="144.5" height="3.75" fill="#7a7a7a"/>
<line x1="940" y1="1170.81" x2="1084.5" y2="1170.81" stroke="#0a0a0a" stroke-width="2.70"/>
<line x1="940" y1="1177.03" x2="1084.5" y2="1177.03" stroke="#111" stroke-width="1.10"/>
<rect x="940" y="1186.68" width="144.5" height="3.68" fill="#7a7a7a"/>
<line x1="940" y1="1180.68" x2="1084.5" y2="1180.68" stroke="#0a0a0a" stroke-width="2.70"/>
<line x1="940" y1="1186.78" x2="1084.5" y2="1186.78" stroke="#111" stroke-width="1.10"/>
<rect x="940" y="1196.18" width="144.5" height="3.57" fill="#7a7a7a"/>
<line x1="940" y1="1190.36" x2="1084.5" y2="1190.36" stroke="#0a0a0a" stroke-width="2.70"/>
<line x1="940" y1="1196.27" x2="1084.5" y2="1196.27" stroke="#111" stroke-width="1.10"/>
<rect x="940" y="1205.34" width="144.5" height="3.43" fill="#7a7a7a"/>
<line x1="940" y1="1199.75" x2="1084.5" y2="1199.75" stroke="#0a0a0a" stroke-width="2.70"/>
<line x1="940" y1="1205.43" x2="1084.5" y2="1205.43" stroke="#111" stroke-width="1.10"/>
<rect x="940" y="1214.07" width="144.5" height="3.25" fill="#7a7a7a"/>
<line x1="940" y1="1208.77" x2="1084.5" y2="1208.77" stroke="#0a0a0a" stroke-width="2.70"/>
<line x1="940" y1="1214.16" x2="1084.5" y2="1214.16" stroke="#111" stroke-width="1.10"/>
<rect x="940" y="1222.29" width="144.5" height="3.04" fill="#7a7a7a"/>
<line x1="940" y1="1217.32" x2="1084.5" y2="1217.32" stroke="#0a0a0a" stroke-width="2.56"/>
<line x1="940" y1="1222.37" x2="1084.5" y2="1222.37" stroke="#111" stroke-width="1.10"/>
<rect x="940" y="1229.92" width="144.5" height="2.81" fill="#7a7a7a"/>
<line x1="940" y1="1225.34" x2="1084.5" y2="1225.34" stroke="#0a0a0a" stroke-width="2.37"/>
<line x1="940" y1="1229.99" x2="1084.5" y2="1229.99" stroke="#111" stroke-width="1.03"/>
<rect x="940" y="1236.88" width="144.5" height="2.55" fill="#7a7a7a"/>
<line x1="940" y1="1232.73" x2="1084.5" y2="1232.73" stroke="#0a0a0a" stroke-width="2.14"/>
<line x1="940" y1="1236.95" x2="1084.5" y2="1236.95" stroke="#111" stroke-width="0.94"/>
<rect x="940" y="1243.11" width="144.5" height="2.26" fill="#7a7a7a"/>
<line x1="940" y1="1239.43" x2="1084.5" y2="1239.43" stroke="#0a0a0a" stroke-width="1.90"/>
<line x1="940" y1="1243.17" x2="1084.5" y2="1243.17" stroke="#111" stroke-width="0.83"/>
<rect x="940" y="1248.55" width="144.5" height="1.95" fill="#7a7a7a"/>
<line x1="940" y1="1245.37" x2="1084.5" y2="1245.37" stroke="#0a0a0a" stroke-width="1.64"/>
<line x1="940" y1="1248.60" x2="1084.5" y2="1248.60" stroke="#111" stroke-width="0.72"/>
<rect x="940" y="1253.14" width="144.5" height="1.62" fill="#7a7a7a"/>
<line x1="940" y1="1250.50" x2="1084.5" y2="1250.50" stroke="#0a0a0a" stroke-width="1.36"/>
<line x1="940" y1="1253.18" x2="1084.5" y2="1253.18" stroke="#111" stroke-width="0.60"/>
<rect x="940" y="1256.85" width="144.5" height="1.28" fill="#7a7a7a"/>
<line x1="940" y1="1254.76" x2="1084.5" y2="1254.76" stroke="#0a0a0a" stroke-width="1.08"/>
<line x1="940" y1="1256.88" x2="1084.5" y2="1256.88" stroke="#111" stroke-width="0.50"/>
<rect x="940" y="1259.63" width="144.5" height="0.92" fill="#7a7a7a"/>
<line x1="940" y1="1258.12" x2="1084.5" y2="1258.12" stroke="#0a0a0a" stroke-width="0.90"/>
<line x1="940" y1="1259.65" x2="1084.5" y2="1259.65" stroke="#111" stroke-width="0.50"/>
<rect x="940" y="1261.45" width="144.5" height="0.56" fill="#7a7a7a"/>
<line x1="940" y1="1260.55" x2="1084.5" y2="1260.55" stroke="#0a0a0a" stroke-width="0.90"/>
<line x1="940" y1="1261.47" x2="1084.5" y2="1261.47" stroke="#111" stroke-width="0.50"/>
<rect x="940" y="1262.31" width="144.5" height="0.19" fill="#7a7a7a"/>
<line x1="940" y1="1262.01" x2="1084.5" y2="1262.01" stroke="#0a0a0a" stroke-width="0.90"/>
<line x1="940" y1="1262.32" x2="1084.5" y2="1262.32" stroke="#111" stroke-width="0.50"/>
<rect x="940" y="1059.2" width="154.5" height="8.5" fill="#111"/>
<rect x="940" y="1256.5" width="154.5" height="6" fill="#1a1a1a"/>
<path d="M1088.3,1059.20 L1084.3,1059.44 L1088.3,1059.69" fill="none" stroke="#111" stroke-width="1.1"/>
<path d="M1088.3,1059.69 L1084.3,1060.42 L1088.3,1061.15" fill="none" stroke="#111" stroke-width="1.1"/>
<path d="M1088.3,1061.15 L1084.3,1062.37 L1088.3,1063.58" fill="none" stroke="#111" stroke-width="1.1"/>
<path d="M1088.3,1063.58 L1084.3,1065.26 L1088.3,1066.94" fill="none" stroke="#111" stroke-width="1.1"/>
<path d="M1088.3,1066.94 L1084.3,1069.07 L1088.3,1071.20" fill="none" stroke="#111" stroke-width="1.1"/>
<path d="M1088.3,1071.20 L1084.3,1073.77 L1088.3,1076.33" fill="none" stroke="#111" stroke-width="1.1"/>
<path d="M1088.3,1076.33 L1084.3,1079.30 L1088.3,1082.27" fill="none" stroke="#111" stroke-width="1.1"/>
<path d="M1088.3,1082.27 L1084.3,1085.62 L1088.3,1088.97" fill="none" stroke="#111" stroke-width="1.1"/>
<path d="M1088.3,1088.97 L1084.3,1092.67 L1088.3,1096.36" fill="none" stroke="#111" stroke-width="1.1"/>
<path d="M1088.3,1096.36 L1084.3,1100.37 L1088.3,1104.38" fill="none" stroke="#111" stroke-width="1.1"/>
<path d="M1088.3,1104.38 L1084.3,1108.65 L1088.3,1112.93" fill="none" stroke="#111" stroke-width="1.1"/>
<path d="M1088.3,1112.93 L1084.3,1117.44 L1088.3,1121.95" fill="none" stroke="#111" stroke-width="1.1"/>
<path d="M1088.3,1121.95 L1084.3,1126.65 L1088.3,1131.34" fill="none" stroke="#111" stroke-width="1.1"/>
<path d="M1088.3,1131.34 L1084.3,1136.18 L1088.3,1141.02" fill="none" stroke="#111" stroke-width="1.1"/>
<path d="M1088.3,1141.02 L1084.3,1145.95 L1088.3,1150.89" fill="none" stroke="#111" stroke-width="1.1"/>
<path d="M1088.3,1150.89 L1084.3,1155.87 L1088.3,1160.85" fill="none" stroke="#111" stroke-width="1.1"/>
<path d="M1088.3,1160.85 L1084.3,1165.83 L1088.3,1170.81" fill="none" stroke="#111" stroke-width="1.1"/>
<path d="M1088.3,1170.81 L1084.3,1175.75 L1088.3,1180.68" fill="none" stroke="#111" stroke-width="1.1"/>
<path d="M1088.3,1180.68 L1084.3,1185.52 L1088.3,1190.36" fill="none" stroke="#111" stroke-width="1.1"/>
<path d="M1088.3,1190.36 L1084.3,1195.05 L1088.3,1199.75" fill="none" stroke="#111" stroke-width="1.1"/>
<path d="M1088.3,1199.75 L1084.3,1204.26 L1088.3,1208.77" fill="none" stroke="#111" stroke-width="1.1"/>
<path d="M1088.3,1208.77 L1084.3,1213.05 L1088.3,1217.32" fill="none" stroke="#111" stroke-width="1.1"/>
<path d="M1088.3,1217.32 L1084.3,1221.33 L1088.3,1225.34" fill="none" stroke="#111" stroke-width="1.1"/>
<path d="M1088.3,1225.34 L1084.3,1229.03 L1088.3,1232.73" fill="none" stroke="#111" stroke-width="1.1"/>
<path d="M1088.3,1232.73 L1084.3,1236.08 L1088.3,1239.43" fill="none" stroke="#111" stroke-width="1.1"/>
<path d="M1088.3,1239.43 L1084.3,1242.40 L1088.3,1245.37" fill="none" stroke="#111" stroke-width="1.1"/>
<path d="M1088.3,1245.37 L1084.3,1247.93 L1088.3,1250.50" fill="none" stroke="#111" stroke-width="1.1"/>
<path d="M1088.3,1250.50 L1084.3,1252.63 L1088.3,1254.76" fill="none" stroke="#111" stroke-width="1.1"/>
<path d="M1088.3,1254.76 L1084.3,1256.44 L1088.3,1258.12" fill="none" stroke="#111" stroke-width="1.1"/>
<path d="M1088.3,1258.12 L1084.3,1259.33 L1088.3,1260.55" fill="none" stroke="#111" stroke-width="1.1"/>
<path d="M1088.3,1260.55 L1084.3,1261.28 L1088.3,1262.01" fill="none" stroke="#111" stroke-width="1.1"/>
<path d="M1088.3,1262.01 L1084.3,1262.26 L1088.3,1262.50" fill="none" stroke="#111" stroke-width="1.1"/>
</g>
<path d="M965,1059.2 L1083.3,1059.2 L1088.3,1065 L1088.3,1256.7 L1083.3,1262.5 L965,1262.5 C980,1242 998.3,1212 998.3,1161 C998.3,1110 980,1080 965,1059.2 Z" fill="none" stroke="#111" stroke-width="2.4" />
<path d="M965,1060 C980,1080 998.3,1110 998.3,1161 C998.3,1212 980,1242 965,1262" fill="none" stroke="#111" stroke-width="2.2" />
<path d="M953.5,1059.2 L965,1059.2" fill="none" stroke="#111" stroke-width="2.6" />
<path d="M953.5,1059.2 L953.5,1073.8" fill="none" stroke="#111" stroke-width="2.0" />
<path d="M957.7,1064.5 L957.7,1074.5" fill="none" stroke="#111" stroke-width="1.6" />
<path d="M953.5,1073.8 C962,1074.5 970,1076.5 976.4,1079.7" fill="none" stroke="#111" stroke-width="1.8" />
<path d="M957.7,1065.3 C965,1068.0 971,1072.0 976.4,1079.7" fill="none" stroke="#111" stroke-width="1.6" />
<path d="M943.5,1072.8 L953.5,1073.8" fill="none" stroke="#111" stroke-width="1.6" />
<path d="M953.5,1262.4999999999998 L965,1262.4999999999998" fill="none" stroke="#111" stroke-width="2.6" />
<path d="M953.5,1262.4999999999998 L953.5,1247.8999999999999" fill="none" stroke="#111" stroke-width="2.0" />
<path d="M957.7,1257.1999999999998 L957.7,1247.1999999999998" fill="none" stroke="#111" stroke-width="1.6" />
<path d="M953.5,1247.8999999999999 C962,1247.1999999999998 970,1245.1999999999998 976.4,1241.9999999999998" fill="none" stroke="#111" stroke-width="1.8" />
<path d="M957.7,1256.3999999999999 C965,1253.6999999999998 971,1249.6999999999998 976.4,1241.9999999999998" fill="none" stroke="#111" stroke-width="1.6" />
<path d="M943.5,1248.8999999999999 L953.5,1247.8999999999999" fill="none" stroke="#111" stroke-width="1.6" />
<circle cx="1038.3" cy="1161.3" r="16.7" fill="#fff" stroke="#111" stroke-width="2.4"/>
<line x1="572.00" y1="524.80" x2="1106.00" y2="524.80" stroke="#222" stroke-width="1.6" stroke-dasharray="9.2 2.6 2.8 2.6" stroke-dashoffset="3.5"/>
<line x1="614.00" y1="1161.40" x2="1104.00" y2="1161.40" stroke="#222" stroke-width="1.6" stroke-dasharray="9.2 2.6 2.8 2.6" stroke-dashoffset="3.5"/>
</svg>
</body></html>
